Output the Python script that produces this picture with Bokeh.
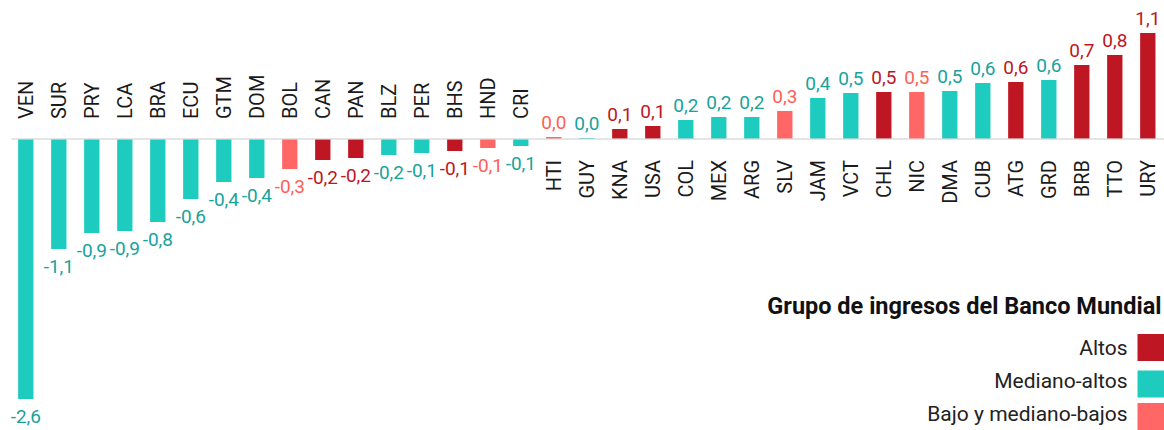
import math
from bokeh.plotting import figure
from bokeh.models import ColumnDataSource, Range1d
from bokeh.core.properties import value
from bokeh.embed import file_html
from bokeh.resources import INLINE

countries = ["VEN", "SUR", "PRY", "LCA", "BRA", "ECU", "GTM", "DOM", "BOL", "CAN",
             "PAN", "BLZ", "PER", "BHS", "HND", "CRI", "HTI", "GUY", "KNA", "USA",
             "COL", "MEX", "ARG", "SLV", "JAM", "VCT", "CHL", "NIC", "DMA", "CUB",
             "ATG", "GRD", "BRB", "TTO", "URY"]
values = [-2.60, -1.10, -0.94, -0.92, -0.83, -0.60, -0.43, -0.39, -0.30, -0.21,
          -0.19, -0.16, -0.14, -0.12, -0.09, -0.07, 0.02, 0.01, 0.10, 0.13,
          0.19, 0.22, 0.22, 0.28, 0.41, 0.46, 0.47, 0.47, 0.48, 0.56,
          0.57, 0.59, 0.74, 0.84, 1.06]
groups = ["M", "M", "M", "M", "M", "M", "M", "M", "L", "H",
          "H", "M", "M", "H", "L", "M", "L", "M", "H", "H",
          "M", "M", "M", "L", "M", "M", "H", "L", "M", "M",
          "H", "M", "H", "H", "H"]

legend_title = "Grupo de ingresos del Banco Mundial"
group_keys = ["H", "M", "L"]
group_names = {"H": "Altos", "M": "Mediano-altos", "L": "Bajo y mediano-bajos"}
bar_colors = {"H": "#BE1622", "M": "#1ECBBF", "L": "#FF6666"}
label_colors = {"H": "#BE1622", "M": "#17A39C", "L": "#FF5F55"}

W, H = 1164, 430
n = len(countries)
step = 33.0
first = 25.3
x0 = -first / step
x1 = x0 + W / step
ppu = 100.0
y_top = 1.385
y_bot = y_top - H / ppu

def fx(px):
    return x0 + px / step

def fy(py):
    return y_top - py / ppu

p = figure(width=W, height=H, x_range=Range1d(x0, x1), y_range=Range1d(y_bot, y_top),
           output_backend="svg", toolbar_location=None, min_border=0,
           x_axis_location=None, y_axis_location=None)
p.grid.visible = False
p.outline_line_color = None
p.background_fill_color = "white"
p.border_fill_color = "white"

idx = list(range(n))
labels = [f"{v:.1f}".replace(".", ",") for v in values]
src = ColumnDataSource(dict(
    x=idx, top=values,
    color=[bar_colors[g] for g in groups],
))

p.vbar(x="x", top="top", bottom=0, width=0.464, fill_color="color", line_color=None, source=src)

p.segment(x0=[fx(11)], x1=[x1], y0=[0], y1=[0], line_color="#d6d6d6", line_width=1.5, line_alpha=0.85)

neg = [i for i in idx if values[i] < 0]
pos = [i for i in idx if values[i] >= 0]

def sub(ids):
    return ColumnDataSource(dict(
        x=[i for i in ids], y=[0 for _ in ids], v=[values[i] for i in ids],
        country=[countries[i] for i in ids], label=[labels[i] for i in ids],
        lcolor=[label_colors[groups[i]] for i in ids],
    ))

sn = sub(neg)
sp = sub(pos)

font = value("Roboto")

p.text(x="x", y="y", text="country", source=sn, angle=math.pi / 2, text_align="left",
       text_baseline="middle", y_offset=-20, text_font=font, text_font_size="20px", text_color="#1a1a1a")
p.text(x="x", y="y", text="country", source=sp, angle=math.pi / 2, text_align="right",
       text_baseline="middle", y_offset=21, text_font=font, text_font_size="20px", text_color="#1a1a1a")

p.text(x="x", y="v", text="label", source=sn, text_align="center", text_baseline="alphabetic",
       y_offset=17, text_font=font, text_font_size="19px", text_color="lcolor")
p.text(x="x", y="v", text="label", source=sp, text_align="center", text_baseline="alphabetic",
       y_offset=-15, text_font=font, text_font_size="19px", text_color="lcolor")

# legend
p.text(x=[fx(1161)], y=[fy(305)], text=[legend_title], text_align="right", text_baseline="alphabetic",
       text_font=font, text_font_style="bold", text_font_size="23.5px", text_color="#111111")
leg_y = [fy(347.5), fy(380), fy(413)]
p.text(x=[fx(1127)] * 3, y=leg_y, text=[group_names[k] for k in group_keys], text_align="right",
       text_baseline="alphabetic", text_font=font, text_font_size="21px", text_color="#222222")
p.rect(x=[fx(1150.5)] * 3, y=[fy(347), fy(383.5), fy(416)], width=27, height=27,
       width_units="screen", height_units="screen",
       fill_color=[bar_colors[k] for k in group_keys], line_color=None)

open("out.html", "w").write(file_html(p, INLINE))
